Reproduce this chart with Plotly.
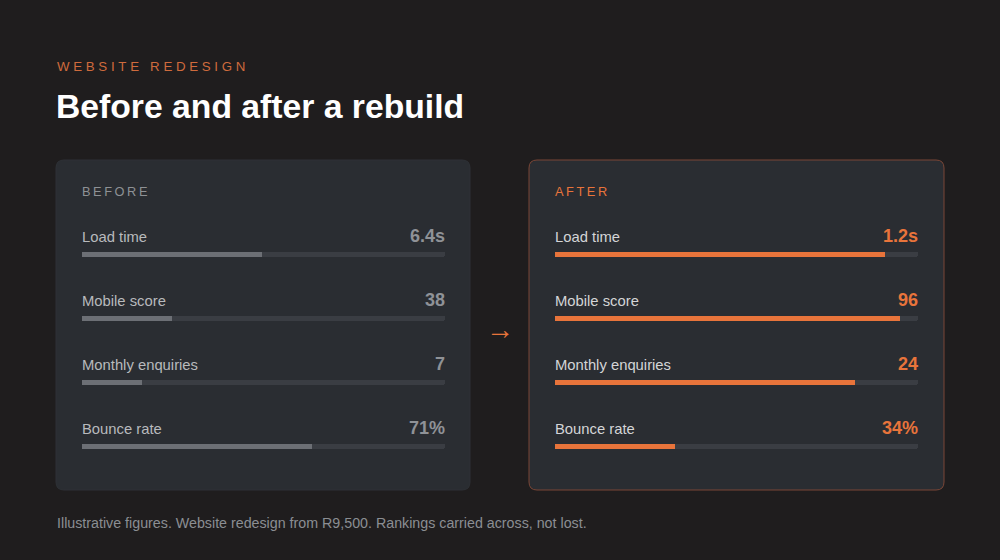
import plotly.graph_objects as go

# ---- data ----
metrics = ["Load time", "Mobile score", "Monthly enquiries", "Bounce rate"]
before_labels = ["6.4s", "38", "7", "71%"]
after_labels = ["1.2s", "96", "24", "34%"]
before_fill = [49.6, 24.8, 16.5, 63.4]   # bar fill, % of track
after_fill = [90.9, 95.0, 82.6, 33.0]
track_max = [100, 100, 100, 100]
rows = [0, 1, 2, 3]

eyebrow = "WEBSITE REDESIGN"
title = "Before and after a rebuild"
footnote = "Illustrative figures. Website redesign from R9,500. Rankings carried across, not lost."

# ---- style ----
W, H = 1000, 560
BG = "#1f1d1e"
PANEL = "#2a2d32"
TRACK = "#3a3d43"
GREY_FILL = "#6c6f75"
ORANGE = "#e8743b"
FONT = "Liberation Sans, Arial, sans-serif"


def spaced(s, gap="\u00a0"):
    words = s.split(" ")
    return (gap * 3).join(gap.join(list(w)) for w in words)


def px(x):
    return x / W


def py(y):
    return 1 - y / H


def rrect(x0, y0, x1, y1, r):
    rx, ry = r / W, r / H
    X0, X1 = px(x0), px(x1)
    Y0, Y1 = py(y0), py(y1)  # Y0 top (larger), Y1 bottom
    return (f"M {X0+rx},{Y0} L {X1-rx},{Y0} Q {X1},{Y0} {X1},{Y0-ry} "
            f"L {X1},{Y1+ry} Q {X1},{Y1} {X1-rx},{Y1} L {X0+rx},{Y1} "
            f"Q {X0},{Y1} {X0},{Y1+ry} L {X0},{Y0-ry} Q {X0},{Y0} {X0+rx},{Y0} Z")


fig = go.Figure()

bar_w = 5 / 64
for xa, fill, col in [("x", before_fill, GREY_FILL), ("x2", after_fill, ORANGE)]:
    ya = "y" if xa == "x" else "y2"
    fig.add_trace(go.Bar(x=track_max, y=rows, orientation="h", xaxis=xa, yaxis=ya,
                         width=bar_w, marker=dict(color=TRACK, cornerradius="50%", line=dict(width=0)),
                         hoverinfo="skip", showlegend=False))
    fig.add_trace(go.Bar(x=fill, y=rows, orientation="h", xaxis=xa, yaxis=ya,
                         width=bar_w, marker=dict(color=col, cornerradius="50%", line=dict(width=0)),
                         hoverinfo="skip", showlegend=False))

ydom = [1 - 490 / H, 1 - 160 / H]
yrange = [(490 - 254.5) / 64, (160 - 254.5) / 64]
ax_common = dict(visible=False, showgrid=False, zeroline=False, fixedrange=True)
fig.update_layout(
    width=W, height=H, margin=dict(l=0, r=0, t=0, b=0),
    paper_bgcolor=BG, plot_bgcolor="rgba(0,0,0,0)",
    barmode="overlay", bargap=0,
    xaxis=dict(domain=[px(82), px(445)], range=[0, 100], **ax_common),
    xaxis2=dict(domain=[px(555), px(918)], range=[0, 100], **ax_common),
    yaxis=dict(domain=ydom, range=yrange, anchor="x", **ax_common),
    yaxis2=dict(domain=ydom, range=yrange, anchor="x2", **ax_common),
    font=dict(family=FONT),
)

shapes = [
    dict(type="path", path=rrect(56, 160, 470, 490, 8), xref="paper", yref="paper",
         fillcolor=PANEL, line=dict(color="#2e3136", width=1), layer="below"),
    dict(type="path", path=rrect(529, 160, 944, 490, 8), xref="paper", yref="paper",
         fillcolor=PANEL, line=dict(color="#7a4636", width=1), layer="below"),
]
fig.update_layout(shapes=shapes)

ann = []
ann.append(dict(text=spaced(eyebrow), x=px(55), y=py(66), xref="paper", yref="paper",
                xanchor="left", yanchor="middle", showarrow=False,
                font=dict(size=13.3, color="#cf6b3d", family=FONT)))
ann.append(dict(text=f"<b>{title}</b>", x=px(54), y=py(106), xref="paper", yref="paper",
                xanchor="left", yanchor="middle", showarrow=False,
                font=dict(size=33.7, color="#ffffff", family=FONT)))
ann.append(dict(text=footnote, x=px(55), y=py(523), xref="paper", yref="paper",
                xanchor="left", yanchor="middle", showarrow=False,
                font=dict(size=14.25, color="#8b8e93", family=FONT)))
ann.append(dict(text="→", x=px(500), y=py(329), xref="paper", yref="paper",
                xanchor="center", yanchor="middle", showarrow=False,
                font=dict(size=28, color=ORANGE, family=FONT)))
ann.append(dict(text=spaced("BEFORE", "\u2009"), x=px(80), y=py(191), xref="paper", yref="paper",
                xanchor="left", yanchor="middle", showarrow=False,
                font=dict(size=12.8, color="#8e9195", family=FONT)))
ann.append(dict(text=spaced("AFTER", "\u2009"), x=px(553), y=py(191), xref="paper", yref="paper",
                xanchor="left", yanchor="middle", showarrow=False,
                font=dict(size=12.8, color=ORANGE, family=FONT)))

for xd, yr, vals, lab_col, val_col in [("x domain", "y", before_labels, "#b8babd", "#8f9297"),
                                        ("x2 domain", "y2", after_labels, "#d4d5d7", ORANGE)]:
    for r, m, v in zip(rows, metrics, vals):
        ann.append(dict(text=m, x=0, y=r, xref=xd, yref=yr, xanchor="left", yanchor="middle",
                        xshift=-2, yshift=18, showarrow=False,
                        font=dict(size=14.8, color=lab_col, family=FONT)))
        ann.append(dict(text=f"<b>{v}</b>", x=1, y=r, xref=xd, yref=yr, xanchor="right", yanchor="middle",
                        xshift=2, yshift=19, showarrow=False,
                        font=dict(size=18, color=val_col, family=FONT)))

fig.update_layout(annotations=ann)
fig.write_html("out.html", config=dict(displayModeBar=False, staticPlot=True),
               post_script="document.body.style.margin='0';document.body.style.background='%s';" % BG)
